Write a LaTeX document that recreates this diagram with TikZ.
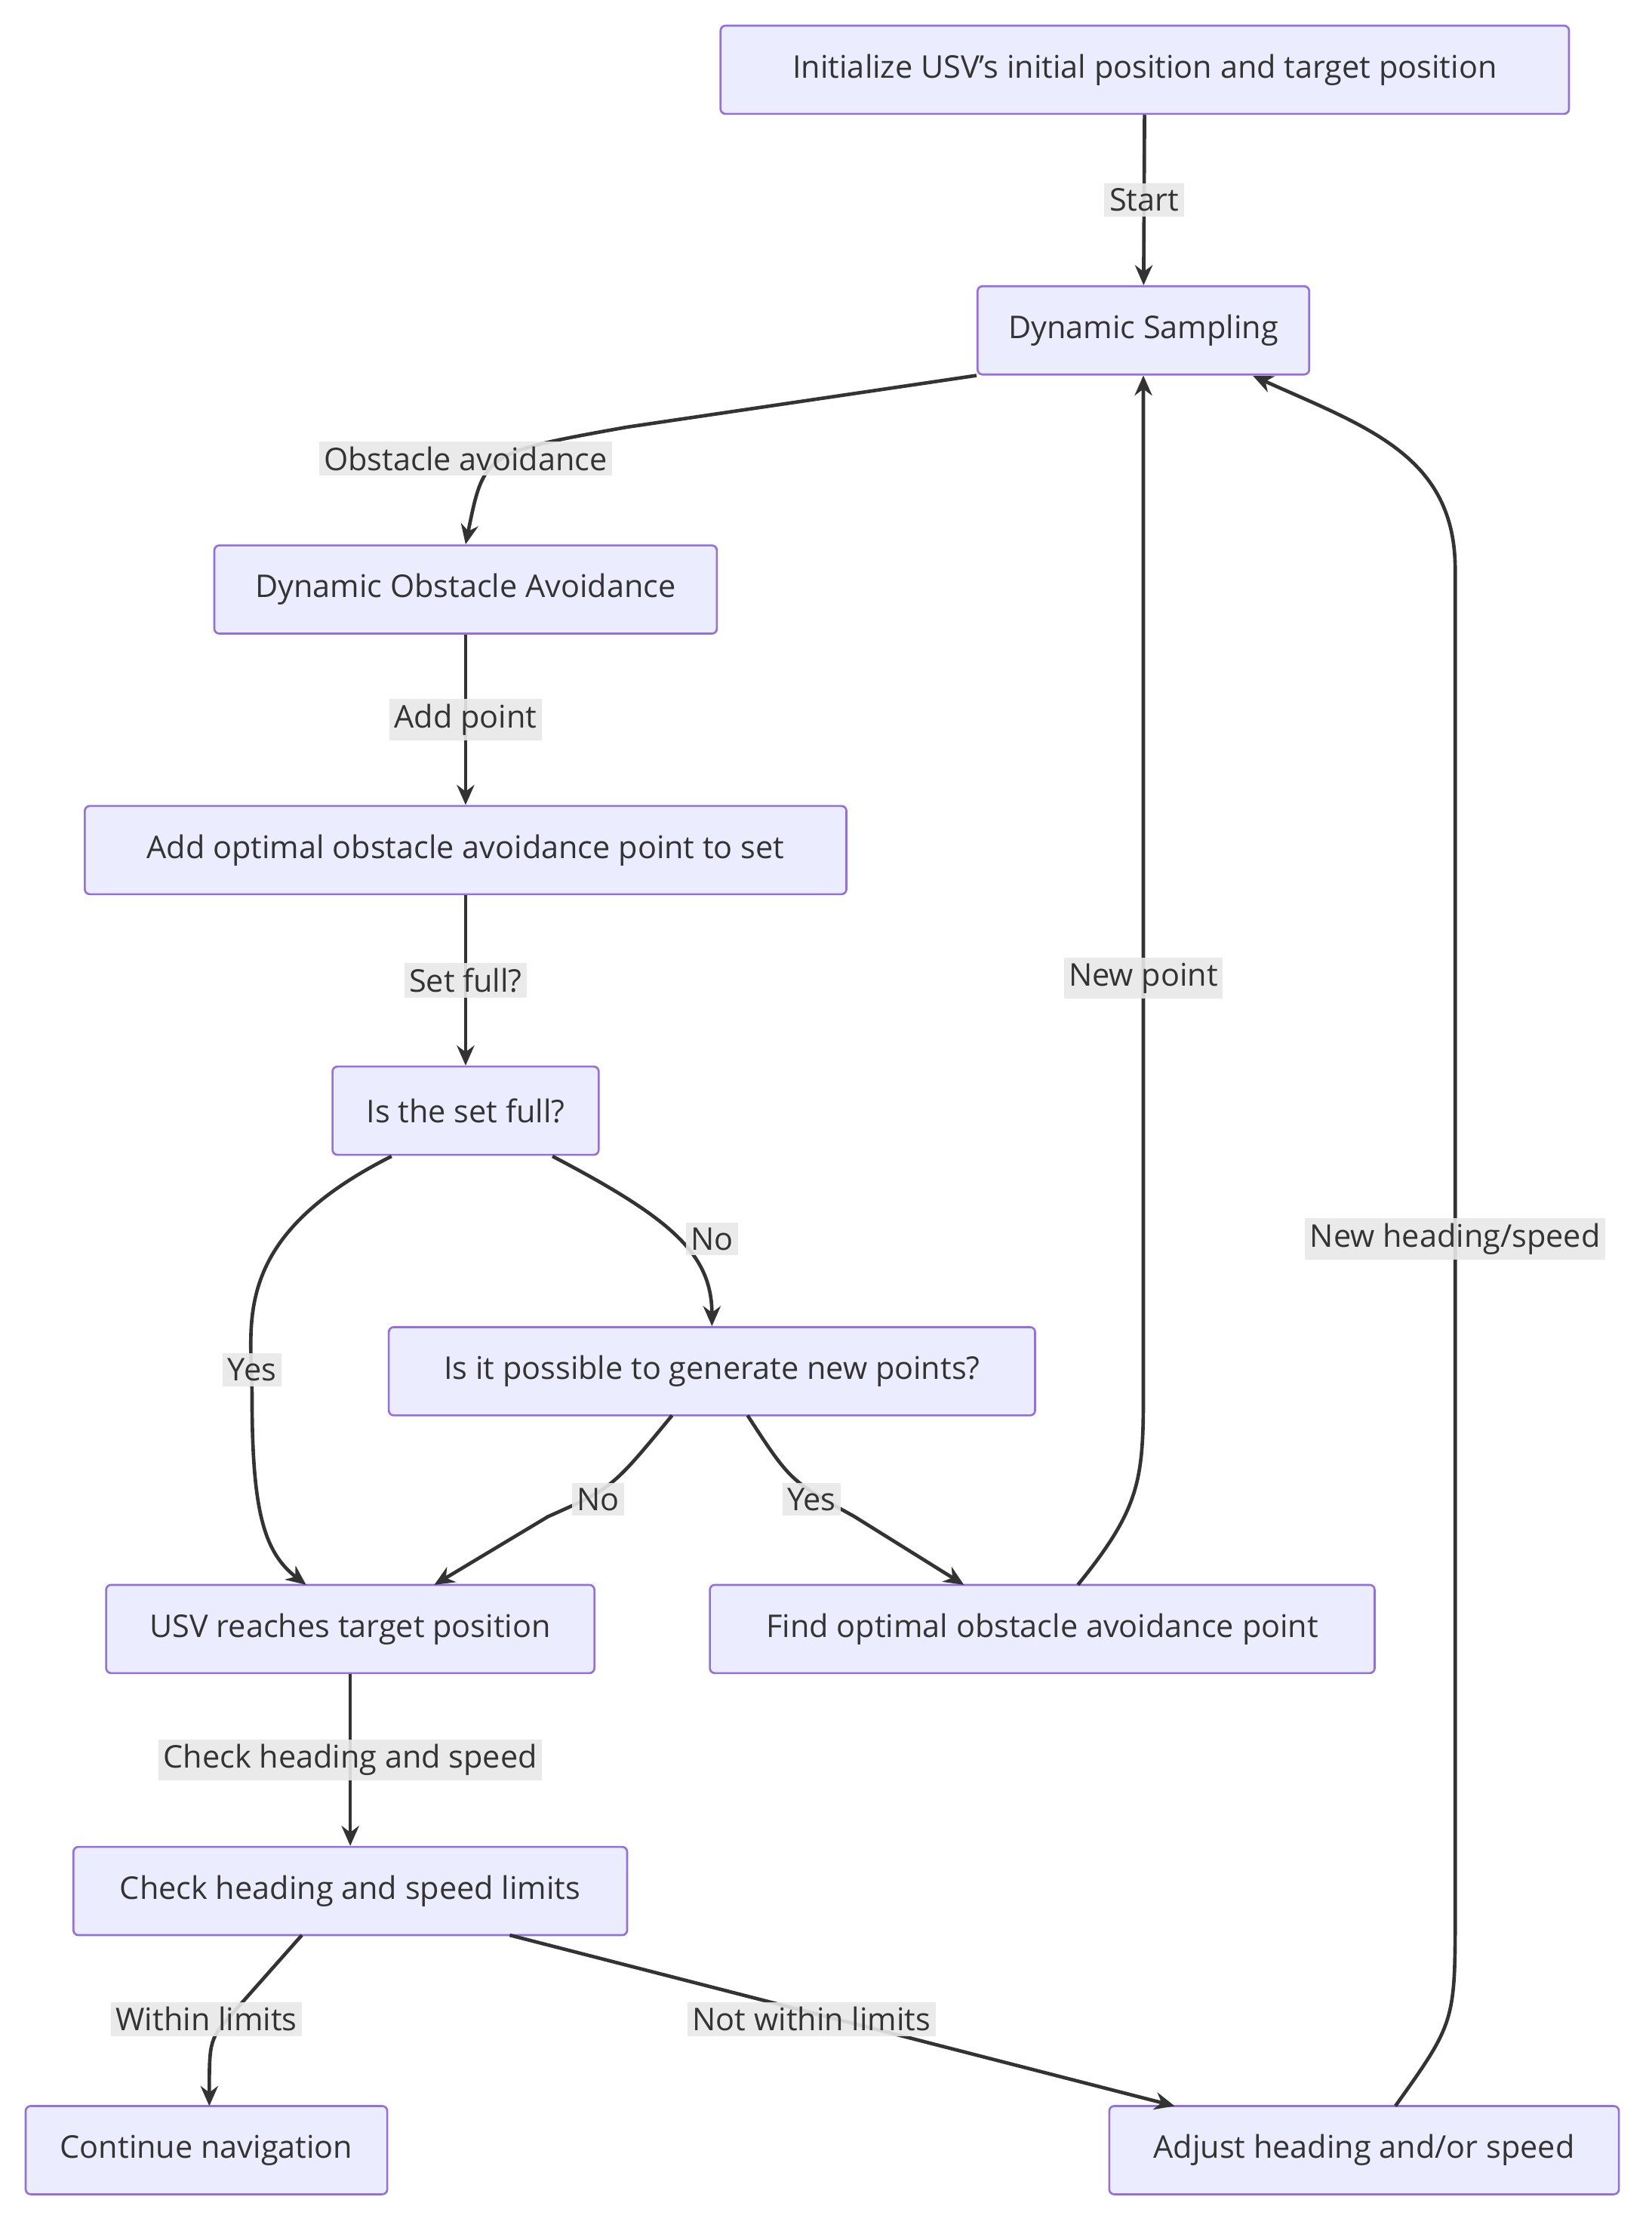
\documentclass[tikz,border=0pt]{standalone}
\usepackage{fontspec}
\setmainfont{Open Sans}
\usetikzlibrary{arrows.meta}
\definecolor{boxfill}{HTML}{ECECFF}
\definecolor{boxline}{HTML}{9370DB}
\definecolor{lblfill}{HTML}{E8E8E8}
\definecolor{edge}{HTML}{333333}
\begin{document}
\begin{tikzpicture}[x=0.02cm, y=-0.02cm,
  every node/.style={font=\fontsize{12.5}{15}\selectfont, text=black!80},
  box/.style={draw=boxline, fill=boxfill, line width=0.8pt, rounded corners=2pt, minimum height=1.24cm, inner sep=0pt},
  lbl/.style={fill=lblfill, fill opacity=0.9, text opacity=1, inner sep=2pt},
  flow/.style={draw=edge, line width=1.4pt, -{Stealth[length=8pt,width=7pt]}}]
\useasboundingbox (0,0) rectangle (1160,1571);
\fill[white] (0,0) rectangle (1160,1571);

% Nodes
\node[box, minimum width=11.92cm] (init) at (804,49) {Initialize USV's initial position and target position};
\node[box, minimum width=4.66cm] (ds) at (803,232) {Dynamic Sampling};
\node[box, minimum width=7.06cm] (doa) at (327,414) {Dynamic Obstacle Avoidance};
\node[box, minimum width=10.7cm] (add) at (327,597) {Add optimal obstacle avoidance point to set};
\node[box, minimum width=3.74cm] (full) at (327,780) {Is the set full?};
\node[box, minimum width=9.08cm] (poss) at (500,963) {Is it possible to generate new points?};
\node[box, minimum width=6.86cm] (reach) at (246,1144) {USV reaches target position};
\node[box, minimum width=9.34cm] (find) at (732,1144) {Find optimal obstacle avoidance point};
\node[box, minimum width=7.78cm] (check) at (246,1328) {Check heading and speed limits};
\node[box, minimum width=5.08cm] (cont) at (145,1510) {Continue navigation};
\node[box, minimum width=7.16cm] (adj) at (958,1510) {Adjust heading and/or speed};

% Connectors
\draw[flow] (init) -- node[lbl] {Start} (ds);
\draw[flow] (ds.south west) -- (440,300) .. controls (340,318) .. (doa.north);
\node[lbl] (l1) at (327,322) {Obstacle avoidance};
\draw[flow] (doa) -- node[lbl] {Add point} (add);
\draw[flow] (add) -- node[lbl] {Set full?} (full);
\draw[flow] (388,812) .. controls (470,855) and (500,880) .. (poss.north);
\node[lbl] (l2) at (500,870) {No};
\draw[flow] (275,812) .. controls (160,870) and (177,930) .. (177,980) .. controls (177,1060) and (185,1090) .. (215,1113);
\node[lbl] (l3) at (177,962) {Yes};
\draw[flow] (472,994) .. controls (430,1045) .. (385,1065) -- (305,1113);
\node[lbl] (l4) at (420,1053) {No};
\draw[flow] (525,994) .. controls (555,1040) .. (600,1065) -- (677,1113);
\node[lbl] (l5) at (570,1053) {Yes};
\draw[flow] (757,1113) .. controls (800,1060) and (803,1040) .. (803,980) -- (ds.south);
\node[lbl] (l6) at (803,687) {New point};
\draw[flow] (reach) -- node[lbl] {Check heading and speed} (check);
\draw[flow] (212,1359) -- (165,1412) .. controls (147,1432) .. (147,1479);
\node[lbl] (l7) at (145,1418) {Within limits};
\draw[flow] (358,1359) -- (825,1479);
\node[lbl] (l8) at (570,1418) {Not within limits};
\draw[flow] (980,1479) .. controls (1022,1420) .. (1022,1340) -- (1022,400) .. controls (1022,320) and (960,300) .. (880,264);
\node[lbl] (l9) at (1022,870) {New heading/speed};
\end{tikzpicture}
\end{document}
